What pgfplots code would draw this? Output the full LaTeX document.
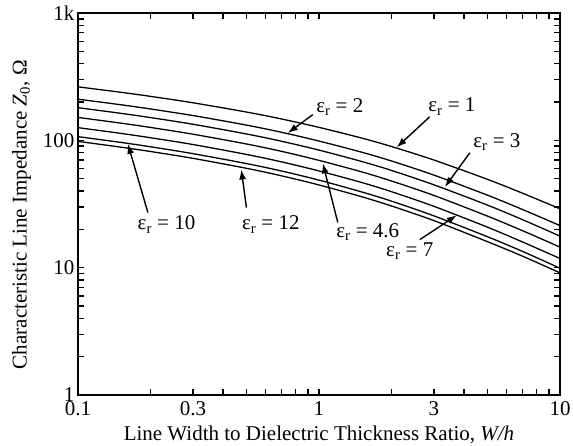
\documentclass[border=0pt]{standalone}
\usepackage{fontspec}
\setmainfont{Liberation Serif}
\usepackage{pgfplots}
\pgfplotsset{compat=1.18}
\usepackage{pgfplotstable}
\usetikzlibrary{arrows.meta}

% microstrip impedance Z0 vs W/h, one column per dielectric constant
\pgfplotstableread{
x     e1     e2     e3     e46    e7     e10    e12
0.1   263.0  210.4  180.5  151.3  125.8  106.9  98.1
0.15  238.6  190.5  163.1  136.6  113.5  96.4   88.5
0.2   221.4  176.3  150.9  126.2  104.8  89.0   81.7
0.3   197.2  156.5  133.7  111.7  92.7   78.6   72.2
0.5   166.8  131.7  112.2  93.6   77.5   65.7   60.3
0.7   147.1  115.6  98.3   81.9   67.7   57.4   52.6
1     126.4  98.7   83.8   69.6   57.5   48.7   44.6
1.5   104.3  80.8   68.3   56.6   46.7   39.4   36.1
2     89.4   68.8   58.0   47.9   39.5   33.3   30.5
3     70.0   53.3   44.7   36.9   30.3   25.5   23.4
5     49.4   37.1   31.0   25.4   20.8   17.5   16.0
7     38.4   28.6   23.8   19.5   15.9   13.4   12.3
10    29.0   21.4   17.7   14.5   11.8   9.9    9.1
}\zdata

\newcommand{\er}{ε\textsubscript{r}}

\begin{document}
\begin{tikzpicture}[font=\fontsize{21}{25}\selectfont]
\begin{axis}[
    xmode=log, ymode=log,
    scale only axis,
    width=482pt, height=382pt,
    xmin=0.1, xmax=10,
    ymin=1, ymax=1000,
    xtick={0.1,0.3,1,3,10},
    xticklabels={0.1,0.3,1,3,10},
    minor xtick={0.2,0.4,0.5,0.6,0.7,0.8,0.9,2,4,5,6,7,8,9},
    ytick={1,10,100,1000},
    yticklabels={1,10,100,1k},
    minor ytick={2,3,4,5,6,7,8,9,20,30,40,50,60,70,80,90,200,300,400,500,600,700,800,900},
    tick align=inside,
    major tick length=6pt, minor tick length=6pt,
    major tick style={black, line width=1.4pt},
    minor tick style={black, line width=1.4pt},
    axis line style={line width=1.3pt},
    tick label style={font=\fontsize{21}{25}\selectfont},
    xticklabel style={yshift=-3pt},
    label style={font=\fontsize{21}{25}\selectfont},
    /pgf/number format/assume math mode=true,
    xlabel={Line Width to Dielectric Thickness Ratio, \textit{W/h}},
    xlabel style={at={(axis description cs:0.5,0)}, anchor=center, yshift=-40pt},
    ylabel={Characteristic Line Impedance \textit{Z}\textsubscript{0}, Ω},
    ylabel style={at={(axis description cs:-0.117,0.472)}, anchor=center},
]
\pgfplotsset{cv/.style={black, solid, line width=1.3pt, mark=none, smooth}}
\addplot[cv] table[x=x, y=e1]  {\zdata};
\addplot[cv] table[x=x, y=e2]  {\zdata};
\addplot[cv] table[x=x, y=e3]  {\zdata};
\addplot[cv] table[x=x, y=e46] {\zdata};
\addplot[cv] table[x=x, y=e7]  {\zdata};
\addplot[cv] table[x=x, y=e10] {\zdata};
\addplot[cv] table[x=x, y=e12] {\zdata};

\tikzset{lbl/.style={-{Latex[length=10pt,width=7pt]}, line width=1.4pt}}
\node at (axis cs:0.233,21.8) {\er{} = 10};
\draw[lbl] (axis cs:0.195,27.1) -- (axis cs:0.161,94);
\node at (axis cs:0.631,21.8) {\er{} = 12};
\draw[lbl] (axis cs:0.50,29.6) -- (axis cs:0.476,59);
\node at (axis cs:1.22,184) {\er{} = 2};
\draw[lbl] (axis cs:0.942,159) -- (axis cs:0.742,114);
\node at (axis cs:3.56,184) {\er{} = 1};
\draw[lbl] (axis cs:2.88,153) -- (axis cs:2.10,88);
\node at (axis cs:5.47,97.7) {\er{} = 3};
\draw[lbl] (axis cs:4.23,80) -- (axis cs:3.33,43);
\node at (axis cs:1.594,18.9) {\er{} = 4.6};
\draw[lbl] (axis cs:1.197,22.6) -- (axis cs:1.037,66);
\node at (axis cs:2.38,13.4) {\er{} = 7};
\draw[lbl] (axis cs:2.62,16.6) -- (axis cs:3.73,25.8);
\end{axis}
\pgfresetboundingbox
\path[use as bounding box] ([shift={(-78pt,-51pt)}]current axis.south west) rectangle ([shift={(13pt,13pt)}]current axis.north east);
\end{tikzpicture}
\end{document}
